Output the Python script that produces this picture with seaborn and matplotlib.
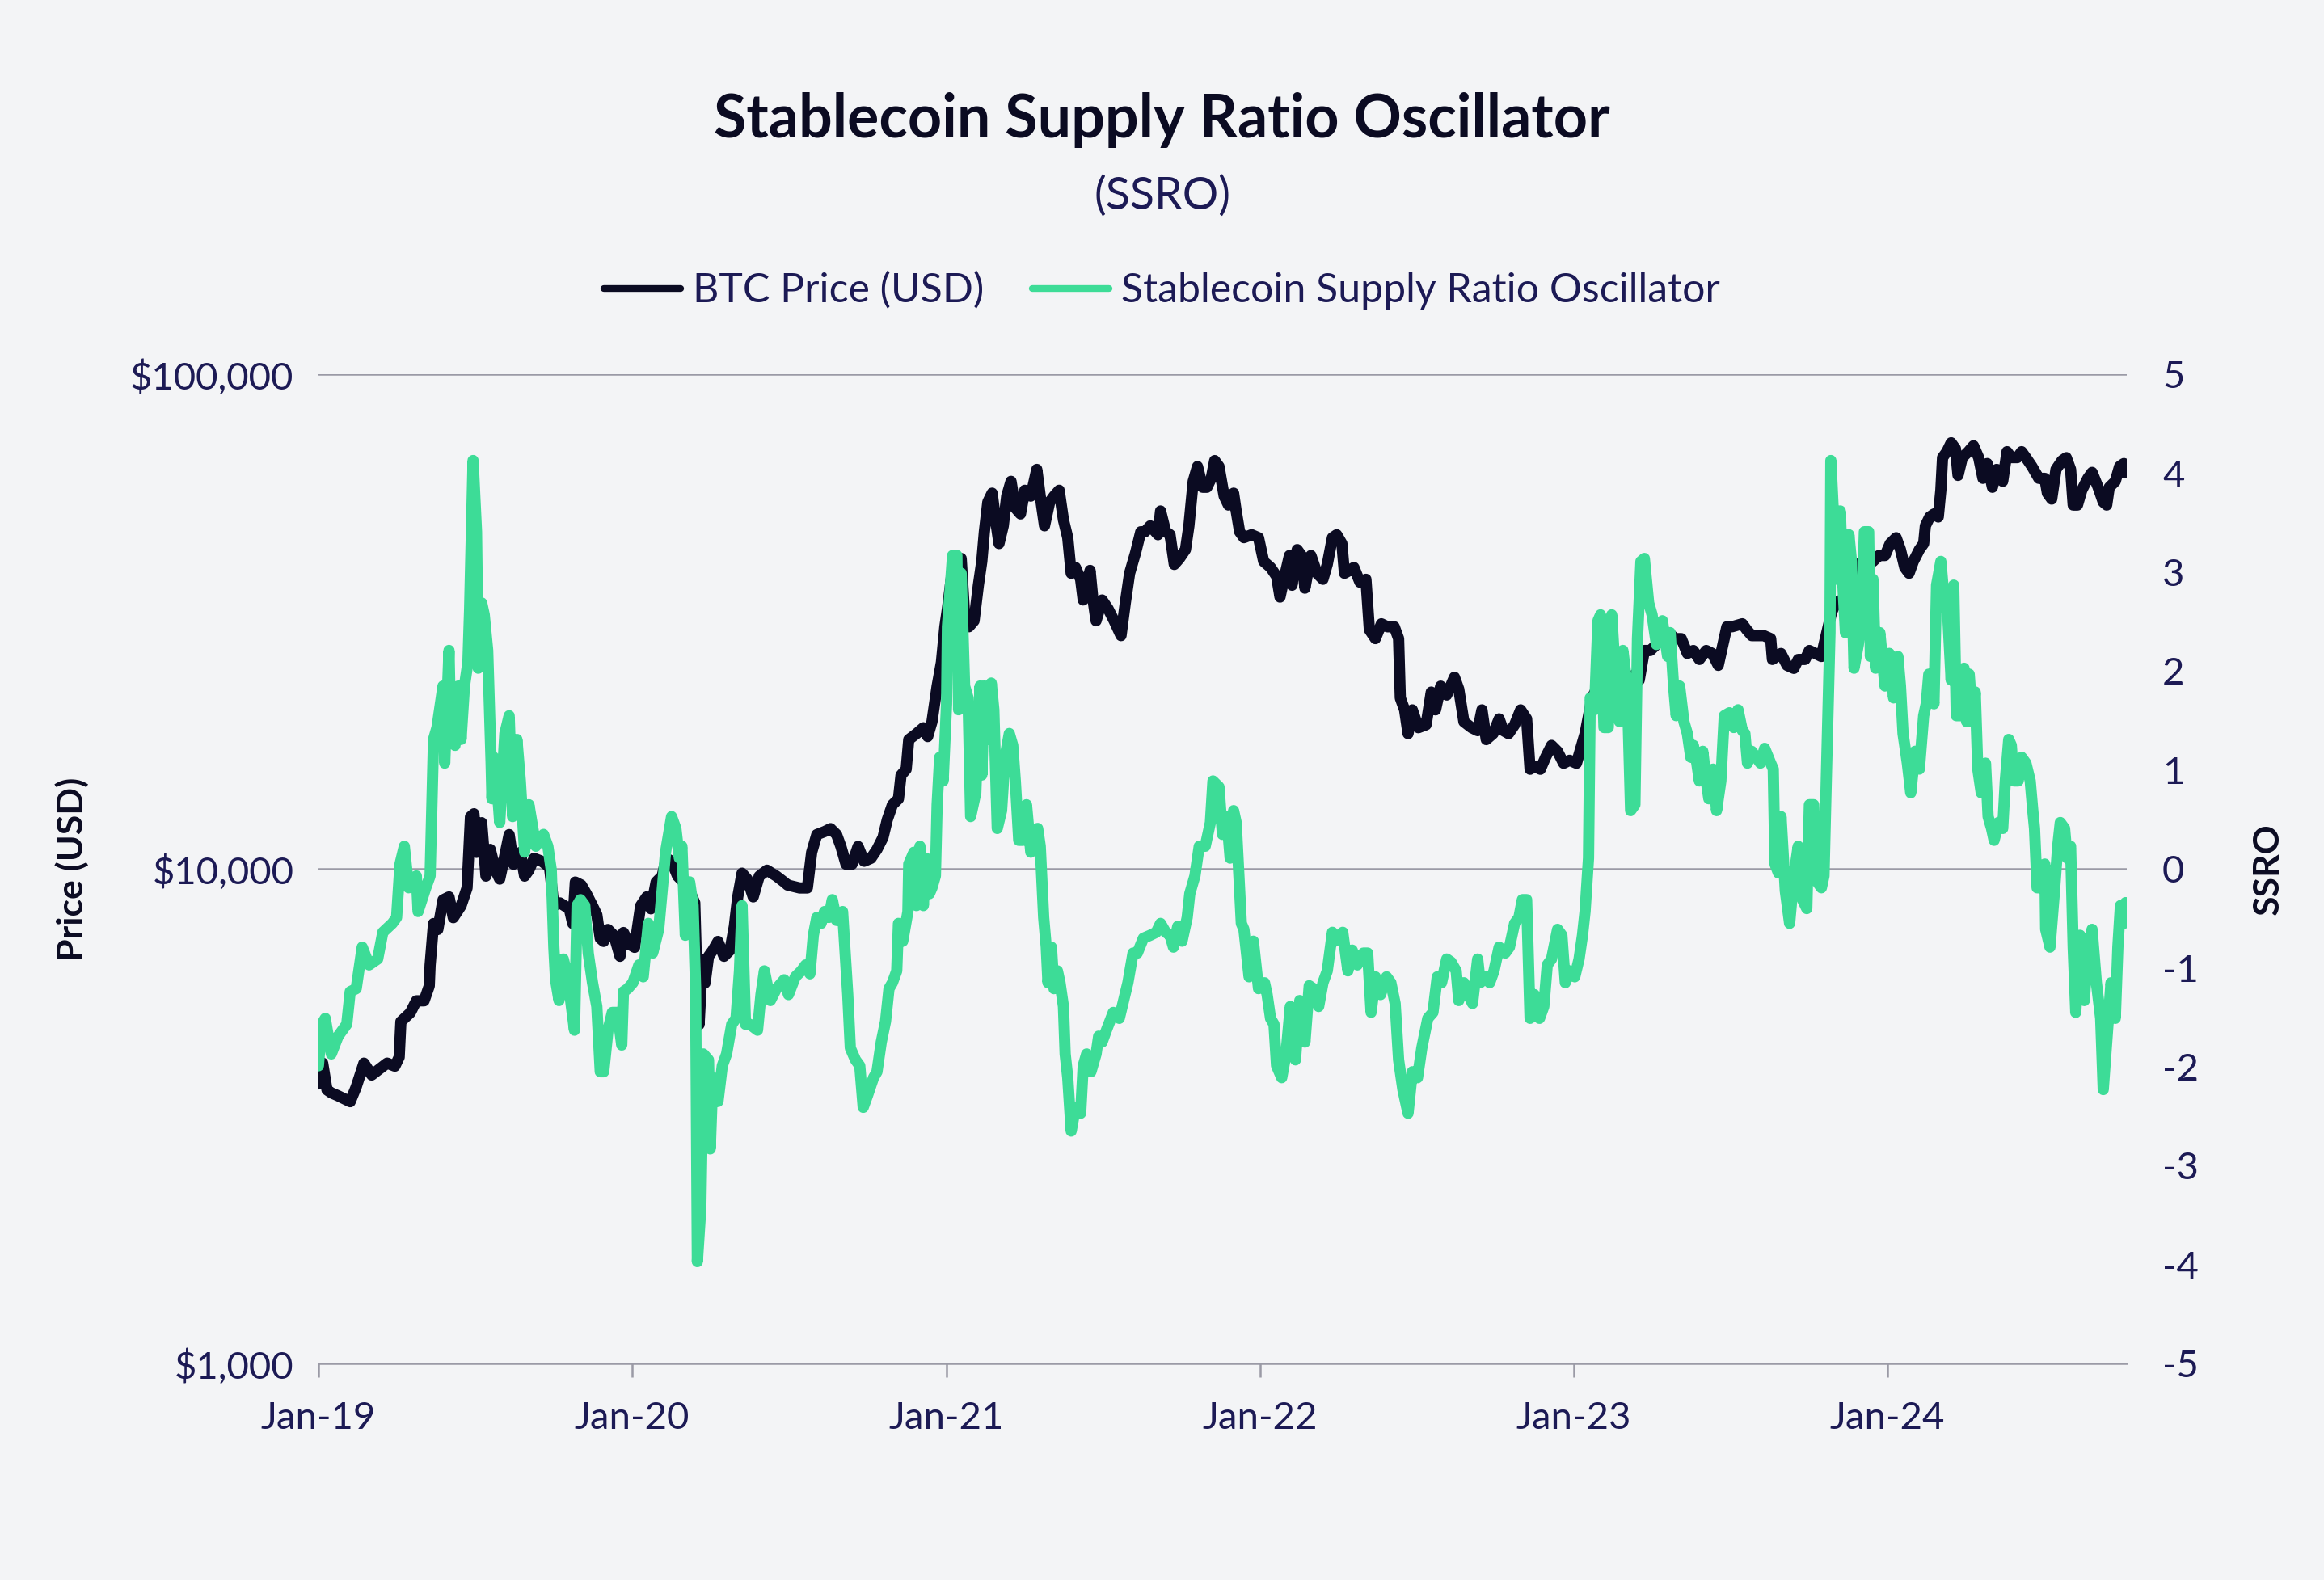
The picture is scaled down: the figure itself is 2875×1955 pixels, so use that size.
import matplotlib
matplotlib.use("Agg")
import matplotlib.pyplot as plt
import matplotlib.dates as mdates
import matplotlib.ticker as mticker
import pandas as pd
import seaborn as sns

# days counted from 1 Jan 2019
btc_days = [0, 5, 10, 15, 23, 37, 44, 53, 62, 71, 80, 89, 94, 96, 107, 114, 123, 129, 130, 134,
            139, 145, 152, 157, 166, 173, 177, 181, 184, 190, 195, 200, 206, 211, 217, 222, 227, 235, 240, 245,
            251, 260, 269, 274, 281, 292, 296, 299, 306, 312, 319, 324, 328, 332, 337, 344, 351, 355, 362, 368,
            375, 382, 387, 393, 400, 405, 411, 418, 425, 432, 438, 441, 443, 447, 450, 454, 459, 465, 472, 479,
            484, 488, 493, 499, 506, 513, 522, 533, 542, 546, 560, 569, 574, 580, 589, 596, 603, 608, 614, 621,
            628, 635, 643, 650, 657, 662, 668, 675, 678, 684, 687, 696, 704, 709, 714, 720, 725, 729, 732, 738,
            743, 748, 752, 757, 763, 768, 772, 775, 779, 784, 788, 792, 797, 801, 806, 811, 817, 822, 829, 836,
            840, 845, 851, 856, 862, 867, 872, 876, 881, 887, 890, 898, 901, 905, 912, 919, 926, 934, 939, 944,
            951, 957, 962, 968, 977, 980, 986, 991, 996, 1002, 1009, 1013, 1018, 1023, 1029, 1034, 1039, 1043, 1048, 1054,
            1059, 1065, 1068, 1072, 1077, 1086, 1094, 1100, 1108, 1115, 1119, 1122, 1130, 1133, 1139, 1144, 1148, 1155, 1162, 1169,
            1174, 1180, 1185, 1191, 1194, 1200, 1205, 1212, 1219, 1223, 1230, 1237, 1244, 1252, 1257, 1259, 1264, 1268, 1273, 1280,
            1289, 1295, 1300, 1306, 1313, 1322, 1327, 1333, 1342, 1349, 1354, 1359, 1367, 1374, 1379, 1385, 1392, 1399, 1406, 1410,
            1415, 1422, 1428, 1435, 1442, 1449, 1456, 1464, 1469, 1474, 1482, 1489, 1496, 1503, 1510, 1518, 1525, 1532, 1537, 1543,
            1550, 1557, 1564, 1571, 1579, 1586, 1593, 1600, 1607, 1615, 1622, 1629, 1639, 1645, 1657, 1662, 1668, 1682, 1690, 1692,
            1702, 1709, 1717, 1722, 1730, 1735, 1742, 1749, 1752, 1761, 1766, 1772, 1777, 1784, 1789, 1792, 1796, 1802, 1809, 1816,
            1823, 1829, 1836, 1841, 1846, 1851, 1856, 1863, 1868, 1870, 1875, 1880, 1885, 1888, 1890, 1895, 1900, 1905, 1908, 1913,
            1920, 1926, 1932, 1937, 1942, 1948, 1953, 1960, 1965, 1970, 1977, 1982, 1987, 1994, 2002, 2009, 2012, 2017, 2022, 2029,
            2034, 2039, 2042, 2047, 2052, 2059, 2064, 2071, 2077, 2081, 2084, 2091, 2096, 2101, 2102]
btc_price = [3676, 4050, 3576, 3527, 3478, 3384, 3625, 4050, 3832, 3940, 4050, 3993, 4164, 4914, 5122, 5413, 5413, 5800, 6390, 7757,
             7546, 8660, 8782, 7972, 8424, 9155, 12754, 12932, 10804, 12406, 9674, 10955, 9945, 9541, 10656, 11738, 10224, 10804, 9674, 9945,
             10510, 10366, 10083, 8424, 8541, 8308, 7757, 9410, 9280, 8904, 8424, 8083, 7236, 7137, 7546, 7337, 6660, 7440, 7039, 6943,
             8424, 8782, 8308, 9410, 9674, 10510, 10366, 9674, 9410, 9028, 8541, 5567, 4847, 6568, 5883, 6660, 6848, 7137, 6660, 6848,
             7651, 8782, 9808, 9541, 8782, 9674, 9945, 9674, 9410, 9280, 9155, 9155, 10804, 11738, 11902, 12068, 11738, 11108, 10224, 10224,
             11108, 10366, 10510, 10955, 11577, 12578, 13483, 13861, 15475, 15910, 18266, 18778, 19305, 18526, 19845, 23428, 26170, 30890, 33570, 40720,
             37480, 42450, 32640, 30890, 31760, 37480, 41870, 48080, 55200, 57540, 50800, 45500, 49420, 56750, 60800, 53700, 52230, 58320, 56750, 64270,
             56750, 49420, 55200, 56750, 58320, 50800, 46770, 39620, 40720, 38530, 34990, 40160, 35470, 31760, 34990, 33570, 31760, 29640, 34510, 39620,
             43640, 48080, 48080, 49420, 47420, 52960, 48080, 47420, 41290, 42450, 44240, 49420, 60800, 65160, 59140, 59140, 61650, 66970, 65160, 56750,
             54440, 57540, 52960, 48080, 46770, 47420, 46770, 41870, 40720, 39070, 35470, 37480, 43040, 37480, 44240, 43040, 36970, 43040, 39620, 38530,
             41290, 46770, 47420, 45500, 39620, 40160, 40720, 38010, 38530, 30470, 29230, 31320, 30890, 30890, 29230, 22170, 20980, 18778, 20980, 19305,
             19570, 22790, 20980, 23428, 22480, 24430, 23100, 19845, 19305, 19040, 20980, 18266, 18778, 20120, 19040, 18778, 19570, 20980, 20120, 15910,
             16130, 15910, 16820, 17780, 17290, 16360, 16590, 16360, 17530, 18778, 22170, 23428, 22790, 22790, 23428, 22790, 23428, 24760, 24090, 27660,
             27660, 28430, 30050, 30050, 29230, 29230, 27280, 27660, 26530, 27660, 27280, 25810, 30890, 30890, 31320, 30470, 29640, 29640, 29230, 26530,
             27280, 25810, 25450, 26530, 26530, 27660, 27280, 26900, 28430, 33110, 34510, 34990, 35470, 35960, 35960, 38530, 41870, 43040, 41870, 43040,
             43040, 45500, 46770, 44240, 40720, 39620, 41870, 44240, 45500, 49420, 51500, 52230, 51500, 58320, 67900, 69810, 72760, 70780, 62500, 67900,
             69810, 71770, 67900, 61650, 66050, 59140, 64270, 60800, 69810, 67900, 67900, 69810, 67900, 65160, 61650, 61650, 57540, 55970, 64270, 66970,
             67900, 64270, 54440, 54440, 58320, 61650, 63390, 59140, 55200, 54440, 59140, 60800, 65160, 66050, 63390]

ssro_days = [0, 4, 8, 15, 23, 33, 37, 44, 51, 59, 69, 75, 86, 91, 95, 100, 105, 114, 116, 125,
             130, 134, 138, 145, 147, 152, 154, 159, 163, 166, 170, 174, 176, 180, 184, 186, 190, 193, 197, 201,
             202, 204, 208, 211, 217, 222, 226, 231, 235, 240, 245, 253, 262, 267, 271, 274, 276, 280, 285, 290,
             294, 298, 301, 305, 310, 314, 319, 324, 328, 332, 337, 342, 348, 353, 355, 360, 366, 373, 378, 384,
             389, 396, 404, 411, 416, 420, 423, 427, 432, 436, 439, 441, 445, 448, 454, 456, 459, 465, 470, 475,
             481, 486, 490, 493, 497, 502, 511, 515, 519, 526, 533, 542, 547, 555, 562, 567, 572, 576, 580, 585,
             589, 594, 598, 603, 610, 616, 619, 625, 630, 634, 639, 646, 650, 655, 660, 664, 668, 673, 675, 680,
             686, 687, 693, 696, 700, 704, 707, 711, 714, 718, 720, 723, 727, 731, 732, 738, 743, 745, 748, 752,
             756, 759, 765, 768, 770, 772, 775, 779, 783, 786, 790, 795, 799, 804, 808, 811, 815, 820, 824, 829,
             837, 840, 844, 847, 849, 853, 856, 860, 863, 867, 869, 872, 876, 881, 887, 890, 894, 899, 905, 908,
             912, 917, 925, 932, 937, 942, 948, 953, 960, 968, 975, 980, 986, 991, 995, 1000, 1005, 1011, 1014, 1020,
             1025, 1032, 1038, 1041, 1048, 1052, 1057, 1061, 1065, 1068, 1074, 1077, 1083, 1088, 1094, 1101, 1104, 1108, 1112, 1115,
             1121, 1126, 1131, 1137, 1142, 1148, 1153, 1158, 1164, 1169, 1174, 1180, 1183, 1192, 1198, 1203, 1209, 1216, 1221, 1225,
             1230, 1236, 1243, 1248, 1253, 1257, 1262, 1268, 1273, 1279, 1284, 1291, 1297, 1302, 1307, 1313, 1318, 1324, 1327, 1333,
             1338, 1343, 1349, 1352, 1358, 1363, 1368, 1374, 1381, 1386, 1392, 1397, 1401, 1406, 1410, 1415, 1421, 1426, 1430, 1435,
             1442, 1447, 1451, 1456, 1462, 1467, 1471, 1474, 1478, 1480, 1485, 1489, 1492, 1496, 1501, 1505, 1510, 1514, 1518, 1523,
             1527, 1532, 1535, 1539, 1543, 1548, 1552, 1557, 1561, 1564, 1570, 1573, 1577, 1580, 1584, 1589, 1593, 1597, 1600, 1604,
             1607, 1611, 1615, 1618, 1623, 1627, 1632, 1636, 1642, 1647, 1652, 1657, 1660, 1663, 1668, 1673, 1678, 1683, 1690, 1693,
             1695, 1699, 1702, 1707, 1712, 1717, 1722, 1727, 1732, 1735, 1740, 1744, 1749, 1752, 1755, 1759, 1760, 1764, 1767, 1771,
             1774, 1777, 1781, 1784, 1787, 1792, 1796, 1799, 1804, 1806, 1809, 1812, 1817, 1823, 1828, 1833, 1838, 1841, 1844, 1849,
             1853, 1858, 1863, 1868, 1871, 1874, 1880, 1883, 1888, 1891, 1896, 1900, 1903, 1906, 1911, 1915, 1918, 1921, 1925, 1928,
             1931, 1935, 1940, 1943, 1947, 1950, 1955, 1960, 1963, 1967, 1970, 1973, 1978, 1982, 1987, 1992, 1995, 1997, 2000, 2005,
             2009, 2010, 2015, 2020, 2024, 2027, 2032, 2035, 2039, 2042, 2045, 2050, 2055, 2059, 2064, 2069, 2074, 2077, 2082, 2086,
             2091, 2094, 2097, 2101, 2103]
ssro_value = [-1.99, -1.57, -1.51, -1.87, -1.69, -1.57, -1.24, -1.21, -0.79, -0.97, -0.91, -0.64, -0.55, -0.49, 0.05, 0.23, -0.19, -0.07, -0.43, -0.19,
              -0.07, 1.31, 1.43, 1.85, 1.07, 2.21, 1.37, 1.25, 1.85, 1.31, 1.85, 2.09, 2.63, 4.13, 3.41, 2.03, 2.69, 2.57, 2.21, 1.07,
              0.71, 1.13, 0.83, 0.47, 1.37, 1.55, 0.53, 1.31, 0.89, 0.17, 0.65, 0.23, 0.35, 0.23, -0.01, -0.79, -1.12, -1.33, -0.91, -1.09,
              -1.36, -1.63, -0.37, -0.31, -0.37, -0.85, -1.15, -1.39, -2.05, -2.05, -1.63, -1.45, -1.45, -1.78, -1.24, -1.21, -1.15, -0.97, -1.09, -0.55,
              -0.85, -0.61, 0.17, 0.53, 0.41, 0.11, 0.23, -0.67, -0.13, -0.37, -1.21, -3.97, -3.43, -1.87, -1.93, -2.83, -2.11, -2.35, -1.99, -1.87,
              -1.57, -1.51, -1.03, -0.37, -1.57, -1.57, -1.63, -1.27, -1.03, -1.33, -1.21, -1.12, -1.27, -1.09, -1.03, -0.97, -1.06, -0.67, -0.49, -0.55,
              -0.43, -0.49, -0.31, -0.52, -0.43, -1.27, -1.81, -1.93, -1.99, -2.41, -2.29, -2.11, -2.05, -1.75, -1.54, -1.21, -1.15, -1.03, -0.55, -0.73,
              -0.43, 0.05, 0.17, -0.37, 0.23, -0.37, 0.11, -0.25, -0.19, -0.07, 0.65, 1.13, 0.89, 1.67, 2.45, 3.17, 3.17, 1.61, 2.99, 1.85,
              1.73, 0.53, 0.77, 1.49, 1.85, 0.95, 1.85, 1.31, 1.88, 1.61, 0.41, 0.59, 1.13, 1.37, 1.25, 0.89, 0.29, 0.29, 0.65, 0.17,
              0.41, 0.23, -0.49, -0.79, -1.15, -0.79, -1.21, -1.03, -1.15, -1.39, -1.87, -2.11, -2.65, -2.41, -2.47, -1.99, -1.87, -2.05, -1.87, -1.69,
              -1.75, -1.63, -1.45, -1.51, -1.33, -1.15, -0.85, -0.85, -0.70, -0.67, -0.64, -0.55, -0.64, -0.67, -0.79, -0.58, -0.73, -0.49, -0.25, -0.07,
              0.23, 0.23, 0.47, 0.89, 0.83, 0.35, 0.53, 0.11, 0.59, 0.47, -0.55, -0.61, -1.09, -0.73, -1.21, -1.15, -1.27, -1.51, -1.57, -1.99,
              -2.11, -1.87, -1.39, -1.93, -1.33, -1.75, -1.18, -1.21, -1.39, -1.15, -1.03, -0.64, -0.73, -0.64, -1.03, -0.82, -0.97, -0.85, -0.85, -1.45,
              -1.09, -1.27, -1.09, -1.15, -1.36, -1.93, -2.23, -2.47, -2.05, -2.11, -1.81, -1.51, -1.45, -1.09, -1.15, -0.91, -0.94, -1.03, -1.33, -1.15,
              -1.27, -1.36, -0.91, -1.15, -1.09, -1.15, -1.03, -0.79, -0.85, -0.79, -0.55, -0.49, -0.31, -0.31, -1.51, -1.27, -1.51, -1.39, -0.97, -0.91,
              -0.61, -0.67, -1.15, -1.03, -1.09, -0.91, -0.67, -0.43, 0.11, 1.73, 1.61, 2.51, 2.57, 1.43, 1.43, 2.57, 1.85, 1.49, 2.21, 1.85,
              0.59, 0.65, 2.33, 3.11, 3.14, 2.69, 2.57, 2.27, 2.45, 2.51, 2.15, 2.39, 1.85, 1.55, 1.85, 1.49, 1.37, 1.13, 1.25, 1.07,
              0.89, 1.19, 0.89, 0.71, 1.01, 0.59, 0.89, 1.55, 1.58, 1.43, 1.61, 1.40, 1.37, 1.07, 1.19, 1.13, 1.07, 1.22, 1.07, 1.01,
              0.05, -0.04, 0.53, -0.22, -0.55, -0.07, 0.23, -0.31, -0.40, 0.65, 0.65, -0.13, -0.19, -0.07, 1.01, 2.39, 4.13, 3.41, 2.93, 3.62,
              2.87, 2.39, 3.38, 3.11, 2.03, 2.27, 2.57, 3.41, 3.41, 2.15, 2.93, 2.03, 2.39, 1.85, 2.18, 1.73, 2.15, 1.85, 1.37, 1.07,
              0.77, 1.19, 1.01, 1.55, 1.67, 1.97, 1.67, 2.87, 3.11, 2.81, 2.57, 1.91, 2.87, 1.55, 1.55, 2.03, 1.49, 1.97, 1.49, 1.79,
              1.01, 0.77, 1.07, 0.53, 0.41, 0.29, 0.47, 0.41, 0.89, 1.31, 1.25, 0.89, 0.89, 1.13, 1.07, 0.89, 0.59, 0.41, -0.19, -0.19,
              0.05, -0.61, -0.79, -0.25, 0.23, 0.47, 0.41, 0.11, 0.23, -0.79, -1.45, -0.67, -1.33, -0.79, -0.61, -1.15, -1.51, -2.23, -1.63, -1.15,
              -1.51, -0.79, -0.37, -0.55, -0.34]

price_ticks = [1000, 10000, 100000]
ssro_ticks = [-5, -4, -3, -2, -1, 0, 1, 2, 3, 4, 5]

start = pd.Timestamp("2019-01-01")
btc = pd.DataFrame({"date": start + pd.to_timedelta(btc_days, unit="D"), "price": btc_price})
ssro = pd.DataFrame({"date": start + pd.to_timedelta(ssro_days, unit="D"), "ssro": ssro_value})

BG = "#f3f4f6"
NAVY = "#1c1a55"
DARK = "#0b0b22"
GREEN = "#3ddc97"
GRID = "#9a9aa6"

sns.set_theme(style="white")
plt.rcParams["font.family"] = ["Lato", "DejaVu Sans"]
plt.rcParams["axes.unicode_minus"] = False

fig, ax = plt.subplots(figsize=(14.375, 9.775), dpi=200)
fig.patch.set_facecolor(BG)
ax.set_facecolor(BG)
fig.subplots_adjust(left=0.137, right=0.915, top=0.763, bottom=0.137)

sns.lineplot(data=btc, x="date", y="price", ax=ax, color=DARK, linewidth=5, legend=False)
ax2 = ax.twinx()
sns.lineplot(data=ssro, x="date", y="ssro", ax=ax2, color=GREEN, linewidth=5, legend=False)

# left axis: log price
ax.set_yscale("log")
ax.set_ylim(1000, 100000)
ax.set_yticks(price_ticks)
ax.yaxis.set_minor_locator(mticker.NullLocator())
ax.yaxis.set_major_formatter(mticker.FuncFormatter(lambda v, p: f"${v:,.0f}"))
ax.grid(axis="y", which="major", color=GRID, linewidth=0.9)
ax.tick_params(axis="y", length=0, pad=11, labelsize=17, labelcolor=NAVY)

# right axis: SSRO
ax2.set_ylim(-5, 5)
ax2.set_yticks(ssro_ticks)
ax2.grid(False)
ax2.tick_params(axis="y", length=0, pad=16, labelsize=17, labelcolor=NAVY)
ax2.set_ylabel("")
ax.set_ylabel("")
ax.set_xlabel("")
ax2.set_xlabel("")

# x axis
ax.set_xlim(start, start + pd.Timedelta(days=2104))
ax.xaxis.set_major_locator(mdates.YearLocator())
ax.xaxis.set_major_formatter(mdates.DateFormatter("%b-%y"))
ax.tick_params(axis="x", length=6, width=0.9, color=GRID, pad=11, labelsize=17,
               labelcolor=NAVY, bottom=True)

for a in (ax, ax2):
    for side in ("left", "right", "top"):
        a.spines[side].set_visible(False)
ax2.spines["bottom"].set_visible(False)
ax.spines["bottom"].set_color(GRID)
ax.spines["bottom"].set_linewidth(0.9)

fig.text(0.5, 0.924, "Stablecoin Supply Ratio Oscillator", ha="center", va="center",
         fontsize=26.5, fontweight="bold", color=DARK)
fig.text(0.5, 0.876, "(SSRO)", ha="center", va="center", fontsize=20, color=NAVY)
fig.text(0.031, 0.45, "Price (USD)", rotation=90, ha="center", va="center",
         fontsize=16, fontweight="bold", color=DARK)
fig.text(0.976, 0.45, "SSRO", rotation=90, ha="center", va="center",
         fontsize=16, fontweight="bold", color=DARK)

handles = [ax.lines[0], ax2.lines[0]]
labels = ["BTC Price (USD)", "Stablecoin Supply Ratio Oscillator"]
leg = fig.legend(handles, labels, loc="center", bbox_to_anchor=(0.5, 0.816), ncol=2,
                 frameon=False, fontsize=18, handlelength=1.9, handletextpad=0.3,
                 columnspacing=1.2, labelcolor=NAVY)
for line in leg.get_lines():
    line.set_linewidth(3)

fig.savefig("out.png", dpi=200, facecolor=BG)
